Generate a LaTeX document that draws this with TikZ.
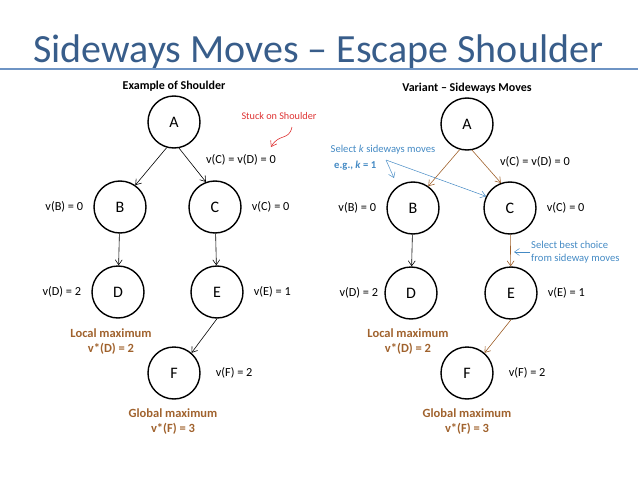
\documentclass[tikz,border=0pt]{standalone}
\usepackage{fontspec}
\setmainfont{Carlito}
\usetikzlibrary{positioning,arrows.meta}
\definecolor{titleblue}{RGB}{56,93,138}
\definecolor{ruleblue}{RGB}{110,148,196}
\definecolor{notebrown}{RGB}{160,98,45}
\definecolor{noteblue}{RGB}{68,138,196}
\definecolor{notered}{RGB}{222,52,52}

\begin{document}
\begin{tikzpicture}[x=1pt,y=-1pt,
  font=\fontsize{12.3}{15}\selectfont, >={Straight Barb[length=5pt,width=7pt]},
  node distance=9pt,
  state/.style={draw,circle,line width=1.4pt,minimum size=52pt,inner sep=0pt,font=\fontsize{16}{18}\selectfont},
  val/.style={inner sep=1pt},
  head/.style={font=\fontsize{12}{14}\selectfont\bfseries},
  peak/.style={align=center,text=notebrown,font=\fontsize{12.5}{15}\selectfont\bfseries},
  note/.style={text=noteblue,align=left,inner sep=1pt,font=\fontsize{10.6}{12.5}\selectfont},
  edge/.style={->,line width=0.6pt},
  pick/.style={edge,draw=notebrown}
]
\useasboundingbox (0,0) rectangle (638,479);

% title
\node[anchor=base west,text=titleblue,font=\fontsize{40}{44}\selectfont,inner sep=0pt] (title) at (33,62) {Sideways Moves -- Escape Shoulder};
\draw[ruleblue,line width=1.6pt] (0,69) -- (638,69);

% left: example of shoulder
\node[head] (h1) at (174,86) {Example of Shoulder};
\node[state] (A1) at (174,122) {A};
\node[state] (B1) at (120,207) {B};
\node[state] (C1) at (215,207) {C};
\node[state] (D1) at (118,292) {D};
\node[state] (E1) at (217,292) {E};
\node[state] (F1) at (174,373) {F};
\node[val,left=of B1] (vb1) {v(B) = 0};
\node[val,right=of C1] (vc1) {v(C) = 0};
\node[val,left=of D1] (vd1) {v(D) = 2};
\node[val,right=of E1] (ve1) {v(E) = 1};
\node[val,right=14pt of F1] (vf1) {v(F) = 2};
\node[val] (vcd1) at (241,160) {v(C) = v(D) = 0};
\node[val,text=notered,font=\fontsize{10.2}{12}\selectfont] (stuck) at (279,116) {Stuck on Shoulder};
\node[peak] (loc1) at (111,342) {Local maximum\\v*(D) = 2};
\node[peak] (glob1) at (173,422) {Global maximum\\v*(F) = 3};
\coordinate (sq) at (292,127);
\draw[->,notered,line width=0.6pt] (sq) .. controls (289,141) and (279,133) .. (271,147);
\draw[edge] (A1.254) -- (B1.55);
\draw[edge] (A1.281) -- (C1.110);
\draw[edge] (B1) -- (D1);
\draw[edge] (C1) -- (E1);
\draw[edge] (E1.270) -- (F1.49);

% right: variant with sideways moves
\node[head] (h2) at (467,88) {Variant -- Sideways Moves};
\node[state] (A2) at (467,124) {A};
\node[state] (B2) at (413,208) {B};
\node[state] (C2) at (510,208) {C};
\node[state] (D2) at (411,293) {D};
\node[state] (E2) at (511,293) {E};
\node[state] (F2) at (467,373) {F};
\node[val,left=of B2] (vb2) {v(B) = 0};
\node[val,right=of C2] (vc2) {v(C) = 0};
\node[val,left=5pt of D2] (vd2) {v(D) = 2};
\node[val,right=of E2] (ve2) {v(E) = 1};
\node[val,right=14pt of F2] (vf2) {v(F) = 2};
\node[val] (vcd2) at (535,162) {v(C) = v(D) = 0};
\node[peak] (loc2) at (408,342) {Local maximum\\v*(D) = 2};
\node[peak] (glob2) at (467,422) {Global maximum\\v*(F) = 3};
\node[note] (selk) at (383,150) {Select \textit{k} sideways moves};
\node[note,anchor=west,font=\fontsize{10.6}{12.5}\selectfont\bfseries] (eg) at (333,166) {e.g., \textit{k} = 1};
\node[note,anchor=west] (best) at (530,252) {Select best choice\\from sideway moves};
\coordinate (kx) at (386,160);
\coordinate (kb) at (394,178);
\coordinate (ce) at (514,252);
\draw[->,noteblue,line width=0.5pt] (kx) -- (kb);
\draw[->,noteblue,line width=0.5pt] (kx) -- (C2.154);
\draw[->,noteblue,line width=0.5pt] (best.west) -- (ce);
\draw[pick] (A2.254) -- (B2.55);
\draw[pick] (A2.281) -- (C2.110);
\draw[edge] (B2) -- (D2);
\draw[pick] (C2) -- (E2);
\draw[pick] (E2.270) -- (F2.49);
\end{tikzpicture}
\end{document}
